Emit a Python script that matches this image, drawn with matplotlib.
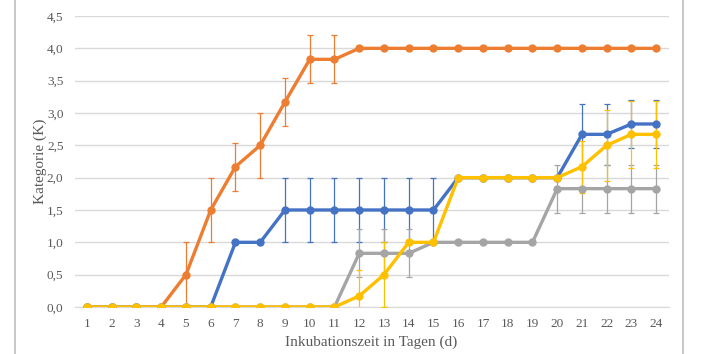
import matplotlib
matplotlib.use("Agg")
import matplotlib.pyplot as plt
from matplotlib.ticker import FuncFormatter
from matplotlib.patches import Rectangle

days = list(range(1, 25))

orange = [0, 0, 0, 0, 0.5, 1.5, 2.17, 2.5, 3.17, 3.83, 3.83, 4, 4, 4, 4, 4, 4, 4, 4, 4, 4, 4, 4, 4]
orange_err = [0, 0, 0, 0, 0.5, 0.5, 0.37, 0.5, 0.37, 0.37, 0.37, 0, 0, 0, 0, 0, 0, 0, 0, 0, 0, 0, 0, 0]

blue = [0, 0, 0, 0, 0, 0, 1, 1, 1.5, 1.5, 1.5, 1.5, 1.5, 1.5, 1.5, 2, 2, 2, 2, 2, 2.67, 2.67, 2.83, 2.83]
blue_err = [0, 0, 0, 0, 0, 0, 0, 0, 0.5, 0.5, 0.5, 0.5, 0.5, 0.5, 0.5, 0, 0, 0, 0, 0, 0.47, 0.47, 0.37, 0.37]

grey = [0, 0, 0, 0, 0, 0, 0, 0, 0, 0, 0, 0.83, 0.83, 0.83, 1, 1, 1, 1, 1, 1.83, 1.83, 1.83, 1.83, 1.83]
grey_err = [0, 0, 0, 0, 0, 0, 0, 0, 0, 0, 0, 0.37, 0.37, 0.37, 0, 0, 0, 0, 0, 0.37, 0.37, 0.37, 0.37, 0.37]

yellow = [0, 0, 0, 0, 0, 0, 0, 0, 0, 0, 0, 0.17, 0.5, 1, 1, 2, 2, 2, 2, 2, 2.17, 2.5, 2.67, 2.67]
yellow_err = [0, 0, 0, 0, 0, 0, 0, 0, 0, 0, 0, 0.4, 0.5, 0, 0, 0, 0, 0, 0, 0, 0.4, 0.55, 0.52, 0.52]

series = [
    (orange, orange_err, "#ED7D31"),
    (blue, blue_err, "#4472C4"),
    (grey, grey_err, "#A5A5A5"),
    (yellow, yellow_err, "#FFC000"),
]

plt.rcParams["font.family"] = ["Liberation Serif", "DejaVu Serif"]
text_col = "#595959"

fig = plt.figure(figsize=(7.07, 3.54), dpi=100)
ax = fig.add_axes([0.1055, 0.1328, 0.8402, 0.822])

for vals, err, col in series:
    ax.errorbar(days, vals, yerr=err, color=col, ecolor=col, elinewidth=0.9,
                capsize=2.5, capthick=0.9, lw=2.4, marker="o", ms=5)

ax.set_xlim(0.5, 24.5)
ax.set_ylim(0, 4.5)
ax.set_xticks(days)
ax.set_yticks([i * 0.5 for i in range(10)])
ax.yaxis.set_major_formatter(FuncFormatter(lambda v, p: f"{v:.1f}".replace(".", ",")))
ax.grid(axis="y", color="#d9d9d9", lw=1)
ax.set_axisbelow(True)
for s in ["top", "right", "left"]:
    ax.spines[s].set_visible(False)
ax.spines["bottom"].set_color("#d9d9d9")
ax.spines["bottom"].set_zorder(0)
ax.tick_params(length=0, labelsize=9.5, labelcolor=text_col, pad=8)
ax.set_xlabel("Inkubationszeit in Tagen (d)", fontsize=11, color=text_col, labelpad=4)
ax.set_ylabel("Kategorie (K)", fontsize=11, color=text_col, labelpad=0)

fig.patches.append(Rectangle((15 / 707, -0.05), (683 - 15) / 707, 1.1,
                             transform=fig.transFigure, fill=False,
                             edgecolor="#bfbfbf", lw=1.2))

fig.savefig("out.png", dpi=100)
